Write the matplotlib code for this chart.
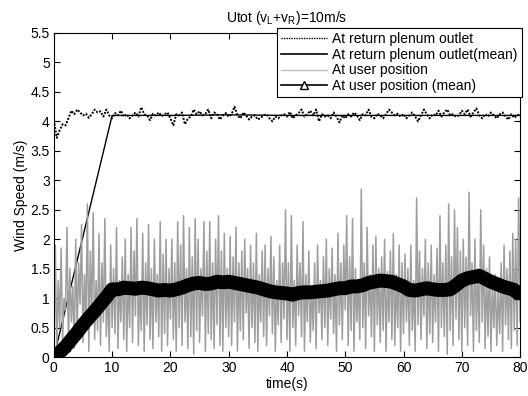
import matplotlib
matplotlib.use("Agg")
import matplotlib.pyplot as plt
from matplotlib.lines import Line2D
from matplotlib.ticker import FormatStrFormatter
import numpy as np

plt.rcParams['font.family'] = ['Liberation Sans', 'DejaVu Sans']
plt.rcParams['mathtext.default'] = 'regular'
plt.rcParams['font.size'] = 10

# return plenum outlet, sampled every 0.5 s (0..80)
outlet = [
    4.02, 3.72, 3.85, 3.95, 3.93, 4.05, 4.18, 4.12, 4.20, 4.15, 4.10, 4.13, 4.06, 4.12, 4.20, 4.15, 4.17, 4.08, 4.20, 4.10,
    4.05, 4.14, 4.10, 4.18, 4.08, 4.12, 4.05, 4.10, 4.15, 4.08, 4.24, 4.12, 4.10, 4.02, 4.13, 4.10, 4.15, 4.09, 4.12, 4.15,
    4.05, 3.93, 4.12, 4.10, 4.15, 3.95, 4.05, 4.08, 4.20, 4.12, 4.17, 4.10, 4.13, 4.20, 4.05, 4.15, 4.12, 4.03, 4.10, 4.14,
    4.08, 4.12, 4.25, 4.10, 4.05, 4.15, 4.10, 4.03, 4.08, 4.10, 4.03, 4.06, 4.10, 4.12, 4.05, 4.00, 4.08, 4.05, 4.10, 4.12,
    4.08, 4.16, 4.05, 4.10, 4.14, 4.20, 4.08, 4.12, 4.18, 4.10, 4.20, 4.00, 4.12, 4.08, 4.10, 4.05, 4.15, 4.08, 3.98, 4.10,
    4.05, 4.12, 4.08, 4.15, 4.10, 4.02, 4.12, 4.10, 4.20, 4.08, 4.05, 4.13, 4.10, 4.05, 4.12, 4.20, 4.15, 4.10, 4.13, 4.08,
    4.12, 4.05, 4.10, 4.15, 4.08, 4.00, 4.10, 4.20, 4.12, 4.05, 4.12, 4.10, 4.18, 4.08, 4.15, 4.20, 4.10, 4.12, 4.08, 4.10,
    4.18, 4.12, 4.20, 4.08, 4.15, 4.22, 4.10, 4.05, 4.12, 4.08, 4.15, 4.10, 4.05, 4.12, 4.15, 4.08, 4.03, 4.12, 4.06, 4.10,
    4.12,
]

# running mean at the outlet
outlet_mean_t = [0, 10, 20, 30, 40, 50, 60, 70, 80]
outlet_mean = [0.0, 4.10, 4.10, 4.11, 4.10, 4.10, 4.10, 4.10, 4.10]

# user position: peaks and troughs alternating every 0.25 s
user_peaks = [
    1.90, 1.30, 1.85, 1.00, 2.20, 1.50, 1.20, 2.00, 1.60, 2.25, 1.40, 2.60, 1.80, 2.45, 1.30, 2.10, 1.60, 2.35, 1.20, 1.90,
    1.50, 2.20, 1.30, 1.70, 2.00, 1.40, 2.20, 1.80, 2.35, 1.25, 2.10, 1.60, 2.25, 1.50, 2.00, 1.40, 2.30, 1.75, 2.00, 1.50,
    2.00, 1.60, 2.30, 1.90, 2.40, 1.50, 2.20, 1.70, 2.35, 2.00, 1.50, 2.30, 1.80, 2.30, 1.60, 2.00, 2.40, 1.80, 2.10, 1.50,
    2.05, 1.70, 2.20, 1.60, 1.80, 2.00, 1.50, 1.90, 1.60, 2.10, 1.40, 1.80, 1.90, 1.50, 2.05, 1.70, 1.30, 1.90, 1.60, 2.50,
    1.60, 2.40, 1.30, 1.90, 1.60, 2.30, 1.40, 1.80, 1.20, 1.60, 1.90, 1.30, 1.70, 2.00, 1.50, 1.85, 1.40, 2.10, 1.60, 1.90,
    2.40, 1.70, 2.35, 1.50, 1.30, 2.85, 1.60, 2.20, 1.40, 1.90, 2.05, 1.50, 1.70, 2.00, 1.45, 1.80, 2.10, 1.40, 1.90, 1.60,
    1.75, 1.50, 1.90, 1.30, 2.70, 1.80, 1.50, 2.00, 1.60, 1.90, 1.40, 1.85, 2.40, 1.60, 1.90, 2.60, 1.70, 2.50, 2.20, 1.80,
    2.00, 1.70, 2.80, 1.60, 2.00, 1.50, 2.50, 1.90, 1.50, 1.70, 1.30, 1.40, 1.20, 1.60, 1.90, 1.50, 1.80, 2.10, 2.00, 2.70,
]
user_troughs = [
    0.10, 0.50, 0.30, 0.80, 0.20, 0.60, 0.15, 0.40, 0.90, 0.25, 0.55, 0.10, 0.70, 0.30, 0.45, 0.20, 0.60, 0.35, 0.10, 0.50,
    0.40, 0.15, 0.60, 0.30, 0.10, 0.50, 0.25, 0.70, 0.20, 0.45, 0.10, 0.55, 0.30, 0.15, 0.60, 0.35, 0.10, 0.40, 0.20, 0.65,
    0.30, 0.10, 0.50, 0.20, 0.60, 0.15, 0.35, 0.05, 0.45, 0.25, 0.70, 0.10, 0.40, 0.30, 0.15, 0.55, 0.20, 0.10, 0.50, 0.35,
    0.20, 0.60, 0.10, 0.45, 0.30, 0.75, 0.15, 0.50, 0.25, 0.10, 0.60, 0.35, 0.20, 0.70, 0.40, 0.10, 0.55, 0.25, 0.65, 0.30,
    0.10, 0.50, 0.20, 0.70, 0.35, 0.10, 0.60, 0.25, 0.45, 0.15, 0.75, 0.30, 0.50, 0.20, 0.65, 0.40, 0.10, 0.55, 0.30, 0.80,
    0.20, 0.45, 0.10, 0.60, 0.30, 0.50, 0.15, 0.70, 0.35, 0.10, 0.55, 0.25, 0.45, 0.10, 0.60, 0.30, 0.20, 0.50, 0.10, 0.40,
    0.60, 0.20, 0.45, 0.10, 0.55, 0.30, 0.70, 0.15, 0.40, 0.25, 0.60, 0.10, 0.50, 0.35, 0.05, 0.45, 0.20, 0.65, 0.30, 0.10,
    0.50, 0.20, 0.70, 0.10, 0.45, 0.25, 0.60, 0.15, 0.35, 0.10, 0.50, 0.20, 0.40, 0.10, 0.55, 0.30, 0.15, 0.45, 0.20, 0.60,
]

# running mean at user position, every 1 s
user_mean = [
    0.00, 0.08, 0.18, 0.30, 0.42, 0.55, 0.67, 0.78, 0.90, 1.02, 1.15,
    1.15, 1.18, 1.17, 1.16, 1.18, 1.17, 1.15, 1.13, 1.14, 1.13,
    1.15, 1.18, 1.22, 1.25, 1.26, 1.24, 1.25, 1.28, 1.27, 1.28,
    1.26, 1.24, 1.22, 1.20, 1.18, 1.15, 1.12, 1.10, 1.09, 1.08,
    1.06, 1.09, 1.10, 1.10, 1.11, 1.12, 1.13, 1.15, 1.17, 1.17,
    1.20, 1.20, 1.22, 1.26, 1.28, 1.30, 1.29, 1.28, 1.24, 1.20,
    1.14, 1.13, 1.15, 1.17, 1.15, 1.14, 1.14, 1.15, 1.22, 1.30,
    1.34, 1.36, 1.38, 1.33, 1.28, 1.24, 1.20, 1.17, 1.14, 1.05,
]

t_out = np.arange(len(outlet)) * 0.5
user = [0.0]
for p, q in zip(user_peaks, user_troughs):
    user += [p, q]
t_user = np.arange(len(user)) * 0.25
t_mean = np.arange(len(user_mean))

fig = plt.figure(figsize=(5.28, 3.96), dpi=100)
ax = fig.add_axes([0.102, 0.098, 0.883, 0.819])

ax.plot(t_out, outlet, color='black', linestyle=(0, (1, 0.8)), lw=1.4)
ax.plot(outlet_mean_t, outlet_mean, color='black', lw=1.0)
ax.plot(t_user, user, color='0.62', lw=1.1)
ax.plot(t_mean, user_mean, color='black', lw=10, solid_capstyle='butt',
        marker='^', markersize=6, markerfacecolor='black',
        markeredgecolor='black')

ax.set_xlim(0, 80)
ax.set_ylim(0, 5.5)
ax.set_xticks(range(0, 81, 10))
ax.set_yticks(np.arange(0, 5.51, 0.5))
ax.yaxis.set_major_formatter(FormatStrFormatter('%g'))
ax.tick_params(direction='in', top=True, right=True, length=4, labelsize=10, pad=3)
ax.set_xlabel('time(s)', fontsize=10, labelpad=1)
ax.set_ylabel('Wind Speed (m/s)', fontsize=10, labelpad=2)
ax.set_title('Utot (v$_L$+v$_R$)=10m/s', fontsize=10, pad=8)

handles = [
    Line2D([], [], color='black', linestyle=(0, (1, 0.8)), lw=1.0),
    Line2D([], [], color='black', lw=1.2),
    Line2D([], [], color='0.75', lw=1.0),
    Line2D([], [], color='black', lw=1.2, marker='^', markersize=6,
           markerfacecolor='white', markeredgecolor='black'),
]
labels = ['At return plenum outlet', 'At return plenum outlet(mean)',
          'At user position', 'At user position (mean)']
leg = fig.legend(handles, labels, loc='upper right',
                 bbox_to_anchor=(522 / 528, 1 - 28 / 396), fontsize=10,
                 frameon=True, fancybox=False, edgecolor='black',
                 framealpha=1, borderpad=0.3, labelspacing=0.12,
                 handlelength=3.3, handletextpad=0.4, borderaxespad=0)
leg.get_frame().set_linewidth(0.8)

fig.savefig('out.png', dpi=100)
